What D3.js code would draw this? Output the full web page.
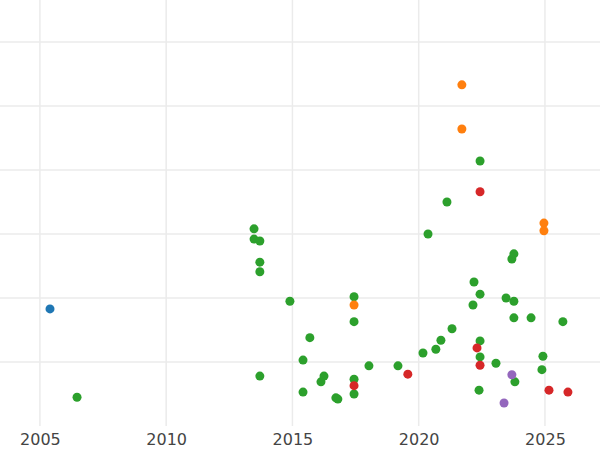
<!DOCTYPE html>
<html><head><meta charset="utf-8">
<script src="https://cdn.jsdelivr.net/npm/d3@7"></script>
<style>body{margin:0;background:#fff}</style></head>
<body><svg id="c" width="600" height="450"></svg>
<script>
const xTicks=[2005,2010,2015,2020,2025];
const yGrid=[1,2,3,4,5,6];
const blueX=[2005.40], blueY=[1.83];
const greenX=[2006.47,2013.48,2013.48,2013.71,2013.71,2013.71,2013.71,2014.90,2015.69,2015.42,2015.42,2016.13,2016.25,2016.72,2016.80,2017.44,2017.44,2017.44,2017.44,2018.03,2019.18,2020.17,2020.68,2020.88,2021.12,2020.37,2021.32,2022.19,2022.15,2022.43,2022.43,2022.43,2022.43,2022.39,2023.06,2023.46,2023.77,2023.77,2023.69,2023.77,2023.81,2024.45,2024.88,2024.92,2025.71];
const greenY=[0.45,3.08,2.92,2.89,2.56,2.41,0.78,1.95,1.38,1.03,0.53,0.69,0.78,0.44,0.42,2.02,1.63,0.73,0.50,0.94,0.94,1.14,1.20,1.34,3.50,3.00,1.52,2.25,1.89,4.14,2.06,1.33,1.08,0.56,0.98,2.00,1.95,1.69,2.61,2.69,0.69,1.69,0.88,1.09,1.63];
const orangeX=[2021.71,2021.71,2024.96,2024.96,2017.44], orangeY=[5.33,4.64,3.17,3.05,1.89];
const redX=[2022.43,2019.57,2017.44,2022.31,2022.43,2025.16,2025.91], redY=[3.66,0.81,0.63,1.22,0.95,0.56,0.53];
const purpleX=[2023.69,2023.38], purpleY=[0.80,0.36];
const series=[[blueX,blueY,"#1f77b4"],[greenX,greenY,"#2ca02c"],[orangeX,orangeY,"#ff7f0e"],[redX,redY,"#d62728"],[purpleX,purpleY,"#9467bd"]];
const svg=d3.select("#c");
const x=d3.scaleLinear().domain([2003.42,2027.18]).range([0,600]);
const y=d3.scaleLinear().domain([0,6.656]).range([426,0]);
svg.append("g").selectAll("line").data(yGrid).join("line").attr("x1",0).attr("x2",600).attr("y1",d=>y(d)).attr("y2",d=>y(d)).attr("stroke","#ebebeb").attr("stroke-width",1.5);
svg.append("g").selectAll("line").data(xTicks).join("line").attr("x1",d=>x(d)).attr("x2",d=>x(d)).attr("y1",0).attr("y2",426).attr("stroke","#ebebeb").attr("stroke-width",1.5);
const ax=svg.append("g").attr("transform","translate(0,426)").call(d3.axisBottom(x).tickValues(xTicks).tickFormat(d3.format("d")).tickSize(0).tickPadding(8));
ax.select(".domain").remove();
ax.selectAll("text").attr("font-family","DejaVu Sans").attr("font-size",16).attr("fill","#444");
series.forEach(([xs,ys,c])=>{
  svg.append("g").selectAll("circle").data(xs).join("circle").attr("cx",d=>x(d)).attr("cy",(d,i)=>y(ys[i])).attr("r",4.5).attr("fill",c);
});
</script></body></html>
